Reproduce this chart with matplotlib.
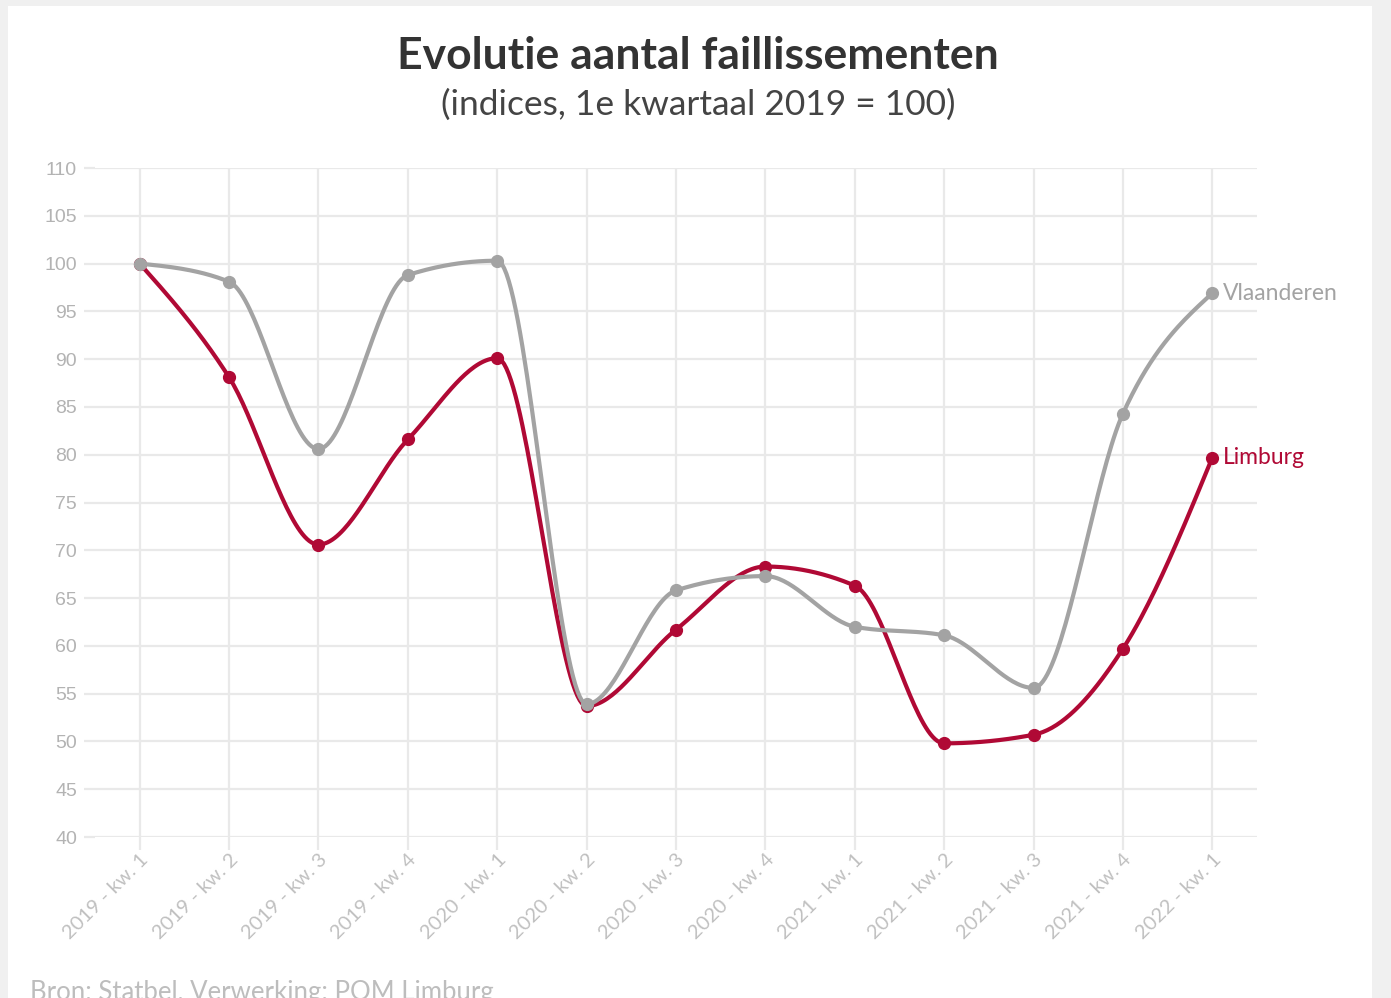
import numpy as np
import matplotlib
matplotlib.use('Agg')
import matplotlib.pyplot as plt
from matplotlib.patches import Rectangle

quarters = ['2019 - kw. 1', '2019 - kw. 2', '2019 - kw. 3', '2019 - kw. 4',
            '2020 - kw. 1', '2020 - kw. 2', '2020 - kw. 3', '2020 - kw. 4',
            '2021 - kw. 1', '2021 - kw. 2', '2021 - kw. 3', '2021 - kw. 4',
            '2022 - kw. 1']
vlaanderen = [100.0, 98.1, 80.6, 98.8, 100.3, 53.9, 65.8, 67.3, 62.0, 61.1, 55.6, 84.3, 96.9]
limburg = [100.0, 88.1, 70.6, 81.6, 90.1, 53.7, 61.7, 68.3, 66.3, 49.8, 50.7, 59.7, 79.7]

RED = '#b00935'
GREY = '#a3a3a3'


def monotone(x, y, n=40):
    # monotone cubic (Steffen-style, like d3 curveMonotoneX)
    x = np.asarray(x, float)
    y = np.asarray(y, float)
    h = np.diff(x)
    s = np.diff(y) / h
    t = np.zeros(len(x))
    for i in range(1, len(x) - 1):
        p = (s[i-1]*h[i] + s[i]*h[i-1]) / (h[i-1] + h[i])
        t[i] = (np.sign(s[i-1]) + np.sign(s[i])) * min(abs(s[i-1]), abs(s[i]), 0.5*abs(p))
    t[0] = (3*s[0] - t[1]) / 2
    t[-1] = (3*s[-1] - t[-2]) / 2
    xs, ys = [], []
    for i in range(len(x) - 1):
        u = np.linspace(0, 1, n)
        h00 = 2*u**3 - 3*u**2 + 1
        h10 = u**3 - 2*u**2 + u
        h01 = -2*u**3 + 3*u**2
        h11 = u**3 - u**2
        xs.append(x[i] + u*h[i])
        ys.append(h00*y[i] + h10*h[i]*t[i] + h01*y[i+1] + h11*h[i]*t[i+1])
    return np.concatenate(xs), np.concatenate(ys)


W, H = 1391, 998
fig = plt.figure(figsize=(W/100, H/100), dpi=100, facecolor='#f0f0f0')
fig.patches.append(Rectangle((8/W, 0), (1372-8)/W, 1-6/H, transform=fig.transFigure,
                             facecolor='white', edgecolor='none', zorder=-10))

ax = fig.add_axes([95/W, 1-837/H, (1257-95)/W, (837-168)/H])
ax.set_facecolor('none')

x = np.arange(len(quarters))
lx, ly = monotone(x, limburg)
ax.plot(lx, ly, color=RED, lw=3, zorder=3, solid_capstyle='round')
ax.plot(x, limburg, 'o', color=RED, ms=8.5, zorder=3)
vx, vy = monotone(x, vlaanderen)
ax.plot(vx, vy, color=GREY, lw=3, zorder=4, solid_capstyle='round')
ax.plot(x, vlaanderen, 'o', color=GREY, ms=8.5, zorder=4)

ax.set_xlim(-0.5, len(quarters) - 0.5)
ax.set_ylim(40, 110)
ax.set_yticks(np.arange(40, 111, 5))
ax.set_xticks(x)
ax.set_xticklabels(quarters, rotation=45, ha='right', va='top', rotation_mode='anchor')
ax.grid(True, color='#e9e9e9', lw=1.6, zorder=0)
ax.set_axisbelow(True)
for sp in ax.spines.values():
    sp.set_visible(False)
ax.tick_params(axis='y', length=8, width=1.6, color='#e9e9e9', pad=5,
               labelsize=14, labelcolor='#b3b3b3')
ax.tick_params(axis='x', length=9, width=1.6, color='#e9e9e9', pad=1,
               labelsize=14.5, labelcolor='#c0c0c0')
for lab in ax.get_xticklabels() + ax.get_yticklabels():
    lab.set_family('Liberation Sans')
for lab in ax.get_xticklabels():
    lab.set_family('Lato')

ax.text(x[-1] + 0.12, vlaanderen[-1], 'Vlaanderen', color=GREY, fontsize=16.5,
        family='Lato', va='center', ha='left', clip_on=False)
ax.text(x[-1] + 0.12, limburg[-1], 'Limburg', color=RED, fontsize=16.5,
        family='Lato', va='center', ha='left', clip_on=False)

fig.text(698/W, 1-56/H, 'Evolutie aantal faillissementen', ha='center', va='center',
         fontsize=32, fontweight='bold', family='Lato', color='#333333')
fig.text(698/W, 1-105/H, '(indices, 1e kwartaal 2019 = 100)', ha='center', va='center',
         fontsize=25.5, family='Lato', color='#444444')
fig.text(30/W, 1-980/H, 'Bron: Statbel, Verwerking: POM Limburg', ha='left', va='top',
         fontsize=18.5, family='Lato', color='#bdbdbd')

fig.savefig('out.png', dpi=100, facecolor=fig.get_facecolor())
